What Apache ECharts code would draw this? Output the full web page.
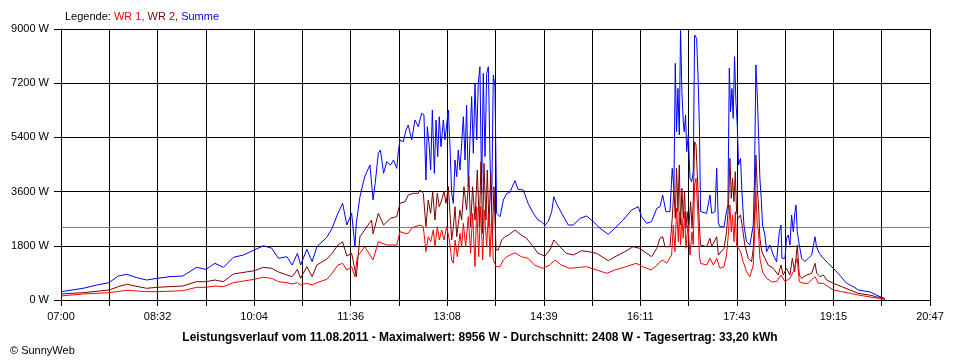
<!DOCTYPE html>
<html>
<head>
<meta charset="utf-8">
<script src="https://cdn.jsdelivr.net/npm/echarts@6/dist/echarts.min.js"></script>
<style>
html,body{margin:0;padding:0;background:#fff;}
#c{width:960px;height:360px;}
</style>
</head>
<body>
<div id="c"></div>
<script>
// time in minutes after 07:00, power in W
const tickLabels = ['07:00','08:32','10:04','11:36','13:08','14:39','16:11','17:43','19:15','20:47'];
const totalMinutes = 827; // 07:00 .. 20:47
const avgW = 2408;

const summe = [
[0,276],[21,388],[34,498],[45.7,575],[54.5,797],[62.5,853],[72,742],[81.5,664],[91.4,720],[103.7,775],[116,797],[129,1085],[138,1019],[146.5,1218],[154.5,1085],[164,1417],[173.5,1494],[184,1660],[192.5,1803],[200.5,1720],[207,1384],[215,1438],[220,1162],[225,1550],[228,1162],[234,1683],[239,1272],[243.5,1770],[253,2082],[258,2380],[263.5,2878],[268,3210],[272,2490],
[276.6,2878],[279.7,1770],[281,2547],[284.5,3430],[289,4095],[294,4483],[297,3321],[299,3875],[302,4872],[304,4982],[307,4208],[310,4593],[313.5,4483],[316.5,4650],[319.5,4373],[321,4925],
[322.6,5314],[325.8,5259],[328.3,5646],[330.5,5812],[333.7,5314],[336.9,5978],[340,5756],[343.2,6200],[345.4,6144],[347.3,3985],[348.6,5756],[350.5,5091],[351.8,4317],[353.4,6310],[355.3,4206],[356.9,5978],[358.5,4761],[360,6087],[361.6,5091],[363.9,5978],[365.4,5314],[368.6,6310],[370.2,5091],[371.8,3543],[373.4,3210],[375,4649],[376.6,4095],[378.1,4982],[379.7,4317],[381.3,5203],[382.9,6087],[384.5,4649],[386,6476],[387.6,3763],[389.2,5314],[390.8,6752],[392.4,4872],[394,7197],[395.6,5314],[397.1,7197],[398.7,7748],[400.3,3543],[401.9,7527],[403.5,4761],[405.1,7527],[406.7,7748],[408.3,4649],[409.8,2989],[411.4,7472],[413,7084],[414.6,2878],[417.8,2767],[421,3321],[424.2,3543],
[427,3565],[432,3963],[435,3676],[440,3653],[444.5,3210],[449.5,2878],[454,2657],[457,2602],[460.5,2490],[463.7,2602],[467,2933],[469,3430],[471.5,3210],[476.5,2878],[482.8,2490],[487.6,2490],[494,2713],[500.3,2790],[506.6,2602],[513,2380],[520.8,2181],[527,2380],[535,2657],[543,2989],[549.4,3098],[552.5,2767],[557.4,2547],[562,2602],[567,3043],
[570,3098],[572.6,3487],[574.5,3543],[575.7,2933],[579.5,2933],[581.7,4373],[583.3,3709],[584.6,7860],[585.8,5589],[587.1,7029],[588.4,5480],[589.6,8956],[590.9,6920],[592.2,5923],[593.1,5589],[594.4,6144],[595.4,4927],[597,5480],[598.6,4040],[600.2,3930],[601.7,4262],[603,8800],[604.9,8690],[606.2,7472],[607.5,5812],[608.7,2933],[614.4,2878],[617.6,3487],[619.2,2878],[622.4,2933],[624,4373],[625.6,2547],
[627.1,2434],[631,2434],[632.8,2823],[634.7,3155],[636,7695],[637.2,6254],[638.5,7029],[639.7,6033],[641,8080],[642.3,6585],[643.6,5812],[644.8,4483],[646.7,4705],[648,3598],[649.9,2490],[652.4,1935],[655.6,1826],[658.8,2490],[660,4041],[661.3,7804],[662.6,6808],[663.8,5589],[665.1,4041],[666.4,3377],[667.6,2490],[669.9,2158],[671.5,1605],[674.7,1826],[677.8,1494],[681,1273],[683.6,2269],[685.2,2490],[686.1,1384],[689,1384],[690.5,2048],[692.1,2158],[693.7,1826],[695.3,2823],[696.9,2269],[698.5,2933],[699.5,3155],[700.7,2269],[702.6,1826],[704.9,1384],[708,1273],[711.2,1384],
[714.4,1494],[717.6,2102],[719,1771],[721.6,1550],[725.5,1384],[730,1218],[735,1052],[741,830],[747.7,554],[754,442],[758.7,332],[770,266],[779.4,110],[784,50]
];

const wr2 = [
[0,200],[21,243],[45.7,332],[54.5,443],[62.5,521],[81.5,388],[91.4,421],[116,465],[129,608],[138,608],[146.5,664],[154.5,610],[164,863],[184,973],[192.5,1085],[200.5,1052],[207,930],[220,775],[225,1019],[228,720],[234,1107],[239,775],[243.5,1162],[253,1362],[258,1550],[263.5,1826],[268,1935],[272,1461],
[276.6,1550],[281,774],[284.5,2102],[289,2325],[295.5,2657],[297,2200],[302,2878],[307,2490],[313.5,2713],[319.5,2768],
[322.6,3210],[327.4,3265],[330.5,3487],[335.3,3543],[340,3543],[341.6,3653],[344.8,3543],[347.3,2434],[349.5,3321],[351.8,2878],[353.7,3598],[355.9,2657],[358.1,3543],[360,3098],[362.3,3321],[364.5,3598],[366.4,3210],[368.6,3763],[370.2,2878],[371.8,1993],[373.4,2434],[375,3098],[376.6,2102],[379.7,2989],[381.3,2657],[383.5,3763],[386,2989],[388.2,4095],[389.8,2434],[391.7,3763],[394,2657],[396.2,4317],[398.1,2434],[399.7,4593],[401.3,2214],[402.5,4538],[404.4,2657],[405.7,4317],[407.3,2434],[408.9,4206],[410.5,1993],[412,3763],[414,1660],[416.2,1660],[419.4,1993],[422.5,2102],
[426,2160],[432,2325],[438,2159],[443,2049],[449.5,1770],[454,1550],[460.5,1461],[465.3,1660],[469,1993],[474.8,1770],[481,1550],[487.6,1494],[495.5,1637],[501.8,1605],[509.8,1550],[520.8,1305],[528.7,1461],[536.6,1605],[544.5,1770],[550.8,1715],[557.4,1550],[562,1439],[567,1715],
[570,2049],[572.6,2102],[574.8,1770],[579.5,1770],[581.7,2713],[583.3,3709],[584.6,2713],[585.8,4373],[587.1,2933],[588.4,4483],[589.6,2490],[590.9,3709],[592.2,2713],[593.4,3598],[594.7,2380],[596,2933],[597.3,2269],[599.2,3265],[600.5,2380],[601.7,3265],[603,5257],[604.3,5148],[606,3819],[607.5,2490],[608.7,1826],[614.4,1770],[617.6,2049],[619.2,1770],[624,2102],[625.6,1494],
[627.1,1494],[631,1717],[633.4,2269],[635.3,3155],[636.6,4705],[637.9,3377],[639.1,4041],[640.4,3265],[641.7,4261],[642.9,2933],[644.5,2713],[646.7,2823],[648.6,2380],[650.8,1826],[654,1385],[657.2,1272],[658.8,1717],[660,2713],[661.3,4815],[662.6,3709],[663.8,3155],[665.1,2049],[667,1604],[669.9,1385],[673,1162],[677.8,1052],[682.6,830],[685.2,1162],[687.4,830],[690.5,1052],[693.7,830],[696,1385],[698.2,940],[700.7,1826],[702.6,830],[704.9,720],[709.6,830],
[714.4,886],[717.6,1218],[719.2,886],[722.4,775],[725.5,830],[728.7,664],[735,554],[743,443],[751,332],[758.7,222],[770,160],[779,80],[784,30]
];

const wr1 = [
[0,133],[21,200],[45.7,243],[62.5,322],[81.5,276],[91.4,276],[116,309],[129,421],[138,421],[146.5,465],[154.5,443],[164,575],[184,687],[192.5,754],[200.5,720],[207,608],[215,575],[220,531],[225,575],[228,498],[234,553],[239,498],[243.5,575],[253,687],[258,886],[263.5,1162],[268,1218],[272,996],
[276.6,1107],[279.7,774],[282,1438],[289,1770],[297,1328],[302,1935],[310,1826],[319.5,1826],
[322.6,2269],[327.4,2214],[330.5,2214],[333.7,2380],[336.9,2434],[341.6,2490],[344.8,2434],[347.3,1604],[349.5,2102],[351.8,1937],[354.3,2325],[355.9,1770],[358.1,2434],[360,1993],[362.3,2325],[364.5,1993],[367,2434],[369.6,1993],[371.8,1328],[373.4,1218],[375,1993],[377.2,1438],[379.7,2214],[381.3,1770],[382.9,2547],[385.1,1770],[387.6,2767],[389.8,1550],[391.7,2878],[394,1107],[395.6,3098],[397.5,1438],[399.4,3098],[401.3,1328],[402.9,2989],[405.1,1770],[406.7,2878],[408.3,1438],[409.8,2767],[411.4,1328],[414,1107],[417.8,1107],[421,1328],[424.2,1438],
[432,1571],[438,1439],[444.5,1384],[450.5,1162],[458.5,1052],[465,1162],[470,1328],[476,1162],[484,1052],[494,1085],[500,1107],[510,996],[519.3,886],[527,996],[538,1107],[547.3,1218],[553.6,1107],[561.5,996],[567.5,1162],
[570,1272],[573.2,1328],[576.3,1218],[581.1,1494],[582.7,2490],[584.3,1604],[585.8,3043],[587.5,1937],[588.4,2933],[589.6,1826],[590.9,2713],[592.2,2049],[593.4,2933],[594.7,1717],[596.7,2490],[598.6,1494],[600.5,2269],[601.7,1826],[603,3819],[604.3,4041],[606,2933],[607.5,1494],[608.7,1218],[614.4,1162],[617.6,1385],[620.8,1162],[624,1385],[627.1,1052],
[631,1107],[633.4,1494],[635.3,2269],[636.6,3155],[637.9,2269],[639.1,2823],[640.4,1937],[641.7,2933],[642.9,1826],[644.5,1826],[646.7,1604],[649.2,1272],[652.4,940],[655.6,774],[658.8,1162],[660,2159],[661.3,3598],[662.6,2490],[663.8,2269],[665.1,1385],[667.6,940],[671.5,720],[676.3,608],[681,608],[685.2,830],[689,608],[693.7,720],[696.9,940],[700.7,1385],[702.6,608],[707,554],[711,554],
[717.6,775],[720.8,554],[725.5,554],[730,443],[735,332],[743,277],[751,222],[758.7,166],[770,100],[779,50],[784,20]
];

const FONT = 'Liberation Sans';
const chart = echarts.init(document.getElementById('c'), null, {renderer:'canvas'});
const step = totalMinutes / 18;

chart.setOption({
  animation: false,
  backgroundColor: '#ffffff',
  textStyle: {fontFamily: FONT},
  title: [
    {
      left: 60, top: 6,
      text: '{a|Legende: }{b|WR 1, }{c|WR 2, }{d|Summe}',
      textStyle: {
        fontSize: 11, fontWeight: 'normal', fontFamily: FONT,
        rich: {
          a: {color:'#000000', fontSize:11, fontWeight:'normal', fontFamily:FONT},
          b: {color:'#ff0000', fontSize:11, fontWeight:'normal', fontFamily:FONT},
          c: {color:'#800000', fontSize:11, fontWeight:'normal', fontFamily:FONT},
          d: {color:'#0000ff', fontSize:11, fontWeight:'normal', fontFamily:FONT}
        }
      }
    },
    {
      left: 'center', top: 327,
      text: 'Leistungsverlauf vom 11.08.2011 - Maximalwert: 8956 W - Durchschnitt: 2408 W - Tagesertrag: 33,20 kWh',
      textStyle: {fontSize: 12, fontWeight: 'bold', color:'#000', fontFamily: FONT}
    },
    {
      left: 5, top: 340,
      text: '© SunnyWeb',
      textStyle: {fontSize: 11, fontWeight: 'normal', color:'#000', fontFamily: FONT}
    }
  ],
  grid: {left: 61, right: 30, top: 29, bottom: 60, containLabel: false},
  xAxis: {
    type: 'value', min: 0, max: totalMinutes, interval: step,
    axisLine: {show: true, lineStyle: {color:'#000', width: 1}},
    axisTick: {show: true, inside: false, length: 6, lineStyle: {color:'#000'}},
    splitLine: {show: true, lineStyle: {color:'#000', width: 1}},
    axisLabel: {
      show: true, showMinLabel: true, showMaxLabel: true, margin: 11,
      color:'#000', fontSize: 11, fontFamily: FONT,
      formatter: function(v){
        const i = Math.round(v / step);
        return (i % 2 === 0) ? tickLabels[i/2] : '';
      }
    }
  },
  yAxis: {
    type: 'value', min: 0, max: 9000, interval: 1800,
    axisLine: {show: true, lineStyle: {color:'#000', width: 1}},
    axisTick: {show: true, inside: false, length: 7, lineStyle: {color:'#000'}},
    splitLine: {show: true, lineStyle: {color:'#000', width: 1}},
    axisLabel: {color:'#000', fontSize: 11, fontFamily: FONT, margin: 12,
      formatter: function(v){ return v + ' W'; }}
  },
  series: [
    {
      name: 'Durchschnitt', type: 'line', data: [[0, avgW],[totalMinutes, avgW]],
      showSymbol: false, silent: true, z: 1,
      lineStyle: {color:'#808080', width: 1}
    },
    {
      name: 'Summe', type: 'line', data: summe, showSymbol: false, z: 2,
      lineStyle: {color:'#0000ff', width: 1}
    },
    {
      name: 'WR 2', type: 'line', data: wr2, showSymbol: false, z: 3,
      lineStyle: {color:'#800000', width: 1}
    },
    {
      name: 'WR 1', type: 'line', data: wr1, showSymbol: false, z: 4,
      lineStyle: {color:'#ff0000', width: 1}
    }
  ]
});
</script>
</body>
</html>
